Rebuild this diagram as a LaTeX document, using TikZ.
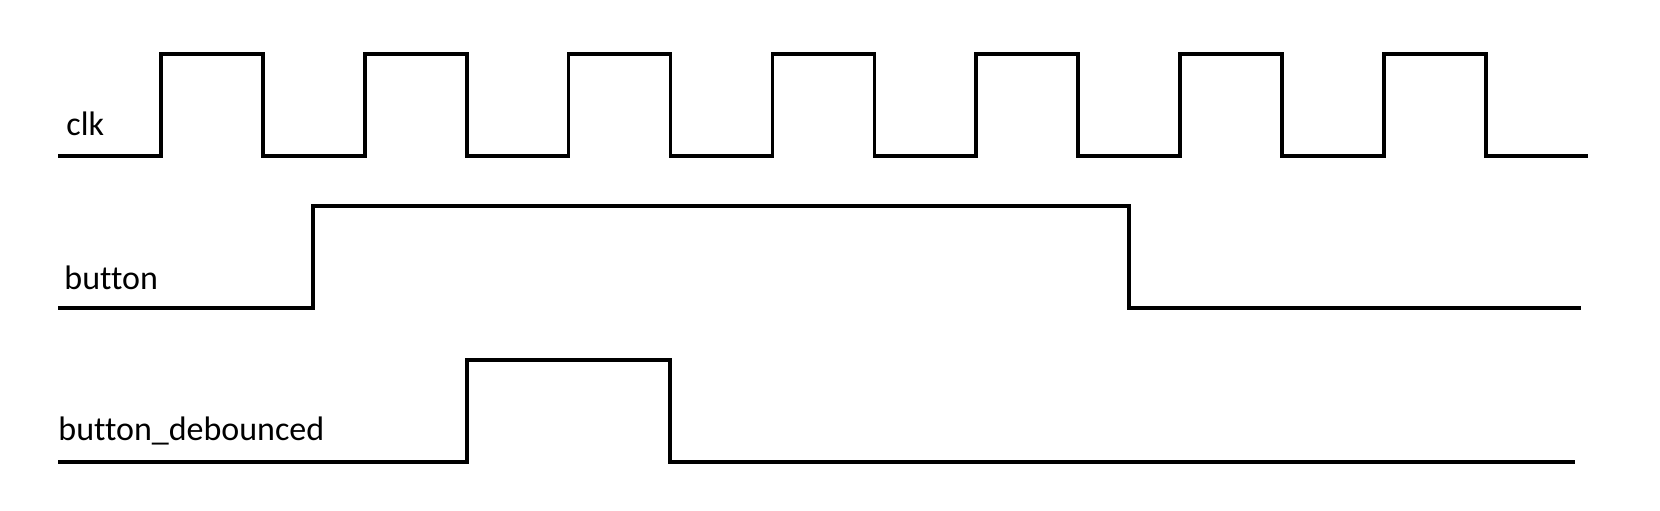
\documentclass[tikz,border=0pt]{standalone}
\usepackage{fontspec}
\setmainfont{Carlito}[Ligatures={NoCommon}]
\usetikzlibrary{positioning, calc}
\tikzstyle{wave} = [line width=1.8pt, black, line join=miter]
\tikzstyle{signame} = [anchor=base west, inner sep=0pt, font=\fontsize{17pt}{20pt}\selectfont]

\begin{document}
\begin{tikzpicture}[x=0.5pt, y=-0.5pt]
\useasboundingbox (0,0) rectangle (1660,510);

\node (clklabel) [signame] at (66,135) {clk};
\node (btnlabel) [signame] at (64,289) {button};
\node (dbclabel) [signame] at (58,440) {button\_debounced};

\coordinate (clkstart) at (58,156);
\coordinate (btnstart) at (58,308);
\coordinate (dbcstart) at (58,462);

% clock, 7 periods
\draw[wave] (clkstart) -- (161,156) foreach \k in {1,...,7} { -- ++(0,-102) -- ++(101.9,0) -- ++(0,102) -- ++(101.9,0) };

\draw[wave] (btnstart) -- (313,308) -- (313,206) -- (1129,206) -- (1129,308) -- (1581,308);

\draw[wave] (dbcstart) -- (467,462) -- (467,360) -- (670,360) -- (670,462) -- (1575,462);

\end{tikzpicture}
\end{document}
